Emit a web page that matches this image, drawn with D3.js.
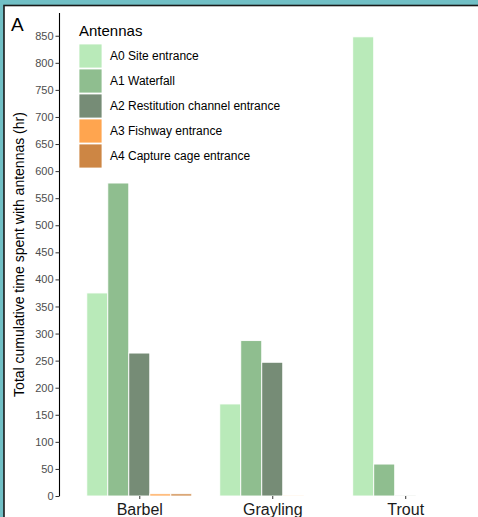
<!DOCTYPE html>
<html>
<head>
<meta charset="utf-8">
<script src="https://cdn.jsdelivr.net/npm/d3@7"></script>
<style>
  html, body { margin: 0; padding: 0; background: #71bfc5; }
  svg { display: block; font-family: "Liberation Sans", Arial, sans-serif; }
</style>
</head>
<body>
<div class="chart"></div>
<script>
// Categories and series
const species = ["Barbel", "Grayling", "Trout"];
const antennas = [
  "A0 Site entrance",
  "A1 Waterfall",
  "A2 Restitution channel entrance",
  "A3 Fishway entrance",
  "A4 Capture cage entrance",
];
const colours = ["#b9eab9", "#8fbe8f", "#768c76", "#ffa54f", "#cd8644"];

// hours per species, one array per antenna
const A0 = [375, 170, 848];
const A1 = [578, 287, 59];
const A2 = [264, 247, 0.5];
const A3 = [4, 0.5, 0];
const A4 = [4, 0, 0];
const series = [A0, A1, A2, A3, A4];

const yTicks = d3.range(0, 851, 50);

const W = 478, H = 517;
const svg = d3
  .select(".chart")
  .append("svg")
  .attr("width", W)
  .attr("height", H);

// white panel with dark frame
svg
  .append("rect")
  .attr("x", 4)
  .attr("y", 5.5)
  .attr("width", W + 10)
  .attr("height", H + 10)
  .attr("fill", "#ffffff")
  .attr("stroke", "#1a1a1a")
  .attr("stroke-width", 1.6);

// Scales
const y = d3.scaleLinear().domain([0, 892]).range([496, 13]);
const x = d3.scalePoint().domain(species).range([59.5, 485]).padding(0.6);
const xInner = d3.scaleBand().domain(antennas).range([-52.5, 52.5]);

// Data in long form
const data = [];
species.forEach((s, i) => {
  antennas.forEach((a, j) => {
    data.push({ species: s, antenna: a, value: series[j][i], colour: colours[j] });
  });
});

// Bars
svg
  .append("g")
  .selectAll("rect")
  .data(data.filter((d) => d.value > 0))
  .join("rect")
  .attr("x", (d) => x(d.species) + xInner(d.antenna))
  .attr("y", (d) => y(d.value))
  .attr("width", xInner.bandwidth())
  .attr("height", (d) => y(0) - y(d.value))
  .attr("fill", (d) => d.colour)
  .attr("stroke", "#ffffff")
  .attr("stroke-width", 0.9);

// Y axis
const yAxis = svg
  .append("g")
  .attr("transform", "translate(59.5,0)")
  .call(d3.axisLeft(y).tickValues(yTicks).tickSize(4).tickPadding(2));
yAxis.select(".domain").attr("stroke", "#000").attr("stroke-width", 1.1)
  .attr("d", `M0,${y(892)}V${y(0)}`);
yAxis.selectAll(".tick line").attr("stroke", "#333");
yAxis.selectAll(".tick text")
  .attr("fill", "#4d4d4d")
  .style("font-size", "11px")
  .style("font-family", "Liberation Sans, Arial, sans-serif");

// X axis (ticks only)
const xAxis = svg
  .append("g")
  .attr("transform", `translate(0,${y(0)})`)
  .call(d3.axisBottom(x).tickSize(3).tickPadding(5));
xAxis.select(".domain").remove();
xAxis.selectAll(".tick line").attr("stroke", "#333");
xAxis.selectAll(".tick text")
  .attr("fill", "#1a1a1a")
  .attr("dy", "0.71em")
  .style("font-size", "16px")
  .style("font-family", "Liberation Sans, Arial, sans-serif");

// Y axis title
svg
  .append("text")
  .attr("transform", `translate(24,${y(446)}) rotate(-90)`)
  .attr("text-anchor", "middle")
  .attr("fill", "#000")
  .style("font-size", "14px")
  .text("Total cumulative time spent with antennas (hr)");

// Panel tag
svg
  .append("text")
  .attr("x", 11)
  .attr("y", 31)
  .attr("fill", "#000")
  .style("font-size", "19px")
  .text("A");

// Legend
const legend = svg.append("g").attr("transform", "translate(79,0)");
legend
  .append("text")
  .attr("x", 0)
  .attr("y", 36)
  .attr("fill", "#000")
  .style("font-size", "15px")
  .text("Antennas");
const keys = legend
  .selectAll("g.key")
  .data(antennas)
  .join("g")
  .attr("class", "key")
  .attr("transform", (d, i) => `translate(0,${44 + i * 25})`);
keys
  .append("rect")
  .attr("width", 23)
  .attr("height", 24)
  .attr("fill", (d, i) => colours[i])
  .attr("stroke", "#ffffff")
  .attr("stroke-width", 0.8);
keys
  .append("text")
  .attr("x", 31)
  .attr("y", 12)
  .attr("dy", "0.35em")
  .attr("fill", "#000")
  .style("font-size", "12px")
  .text((d) => d);
</script>
</body>
</html>
